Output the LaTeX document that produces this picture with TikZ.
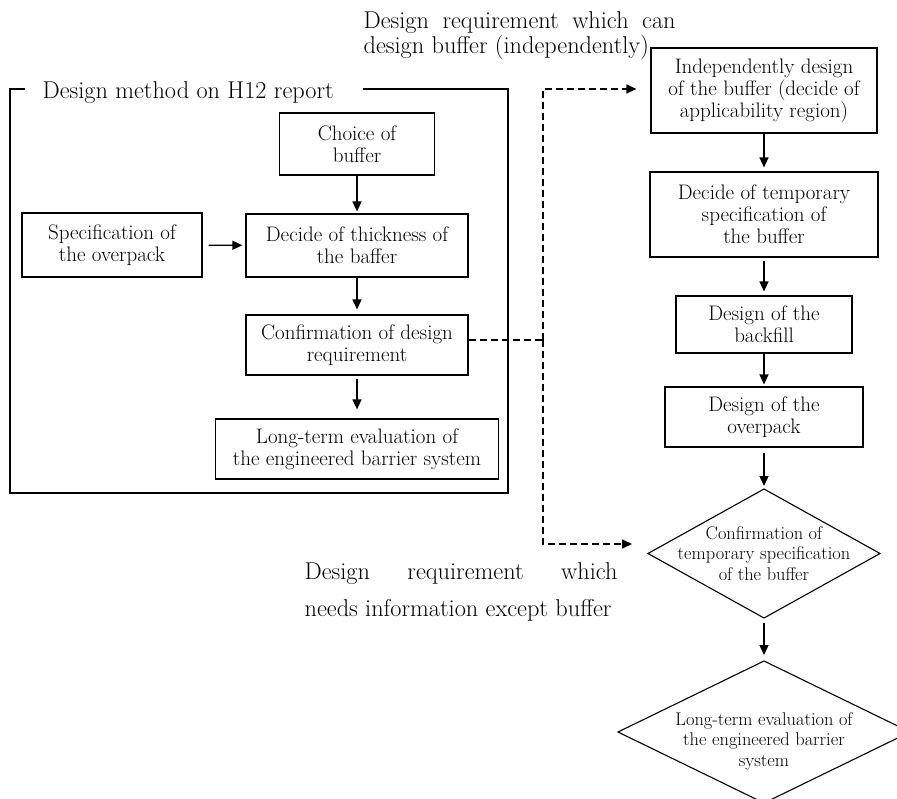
\documentclass[tikz,border=0pt]{standalone}
\usepackage{fontspec}
\usetikzlibrary{shapes.geometric,arrows.meta}
\begin{document}
\begin{tikzpicture}[x=1pt,y=-1pt,line width=1.2pt,
  box/.style={draw,rectangle,align=center,inner sep=0pt,font=\fontsize{21}{22}\selectfont},
  dia/.style={draw,diamond,inner sep=0pt,outer sep=0pt,line width=1.1pt},
  dtext/.style={align=center,font=\fontsize{18.4}{20.5}\selectfont},
  flow/.style={-{Triangle[length=10pt,width=9pt]},line width=1.4pt},
  cross/.style={dash pattern=on 7pt off 4pt,line width=1.3pt},
  crossarrow/.style={cross,-{Triangle[length=10pt,width=9pt]}},
  lbl/.style={anchor=base west,inner sep=0pt,font=\fontsize{24.3}{26}\selectfont}]
\useasboundingbox (0,0) rectangle (897,798);

% outer labels
\node[lbl] (canA) at (363,28) {\makebox[312pt][s]{Design requirement which can}};
\node[lbl] (canB) at (363,53) {design buffer (independently)};
\node[lbl] (needA) at (304,579) {\makebox[313pt][s]{Design requirement which}};
\node[lbl] (needB) at (304,616) {needs information except buffer};

% frame of the H12 method
\draw (25,89) -- (10,89) -- (10,493) -- (508,493) -- (508,89) -- (363,89);
\node[lbl] (h12) at (42,98) {Design method on H12 report};

% H12 flow
\node[box,minimum width=155pt,minimum height=62pt] (choice) at (357,144) {Choice of\\buffer};
\node[box,minimum width=180pt,minimum height=64pt] (spec) at (112,245) {Specification of\\the overpack};
\node[box,minimum width=222pt,minimum height=63pt] (thick) at (357,245.5) {Decide of thickness of\\the baffer};
\node[box,minimum width=222pt,minimum height=60pt] (confirm) at (357,345) {Confirmation of design\\requirement};
\node[box,minimum width=283pt,minimum height=60pt] (longA) at (357,449) {Long-term evaluation of\\the engineered barrier system};

\draw[flow,shorten >=2pt] (choice) -- (thick);
\draw[flow,shorten <=6pt,shorten >=3pt] (spec) -- (thick);
\draw[flow,shorten >=5pt] (thick) -- (confirm);
\draw[flow,shorten <=3pt,shorten >=9pt] (confirm) -- (longA);

% new flow
\node[box,minimum width=226pt,minimum height=85pt] (indep) at (764,90.5) {Independently design\\of the buffer (decide of\\applicability region)};
\node[box,minimum width=228pt,minimum height=85pt] (temp) at (764,214.5) {Decide of temporary\\specification of\\the buffer};
\node[box,minimum width=176pt,minimum height=57pt] (backfill) at (764,324.5) {Design of the\\backfill};
\node[box,minimum width=198pt,minimum height=60pt] (overpack) at (764,417) {Design of the\\overpack};
\node[dia,minimum width=232pt,minimum height=129pt] (tconf) at (764,553.5) {};
\node[dtext] (tconfT) at (764,553.5) {Confirmation of\\temporary specification\\of the buffer};
\node[dia,minimum width=292pt,minimum height=142pt] (longB) at (764,732) {};
\node[dtext] (longBT) at (764,741) {Long-term evaluation of\\the engineered barrier\\system};

\draw[flow,shorten >=4pt] (indep) -- (temp);
\draw[flow,shorten <=3pt,shorten >=4pt] (temp) -- (backfill);
\draw[flow,shorten >=2pt] (backfill) -- (overpack);
\draw[flow,shorten <=5pt,shorten >=3pt] (overpack) -- (tconf);
\draw[flow,shorten <=5pt,shorten >=6pt] (tconf) -- (longB);

% dashed links from the H12 confirmation step
\coordinate (split) at (543,340);
\coordinate (upturn) at (543,89);
\coordinate (downturn) at (543,544);
\draw[cross] (confirm.east |- split) -- (split);
\draw[crossarrow,shorten >=14pt] (split) -- (upturn) -- (indep.west |- upturn);
\draw[crossarrow,shorten >=16pt] (split) -- (downturn) -- (tconf.west |- downturn);
\end{tikzpicture}
\end{document}
